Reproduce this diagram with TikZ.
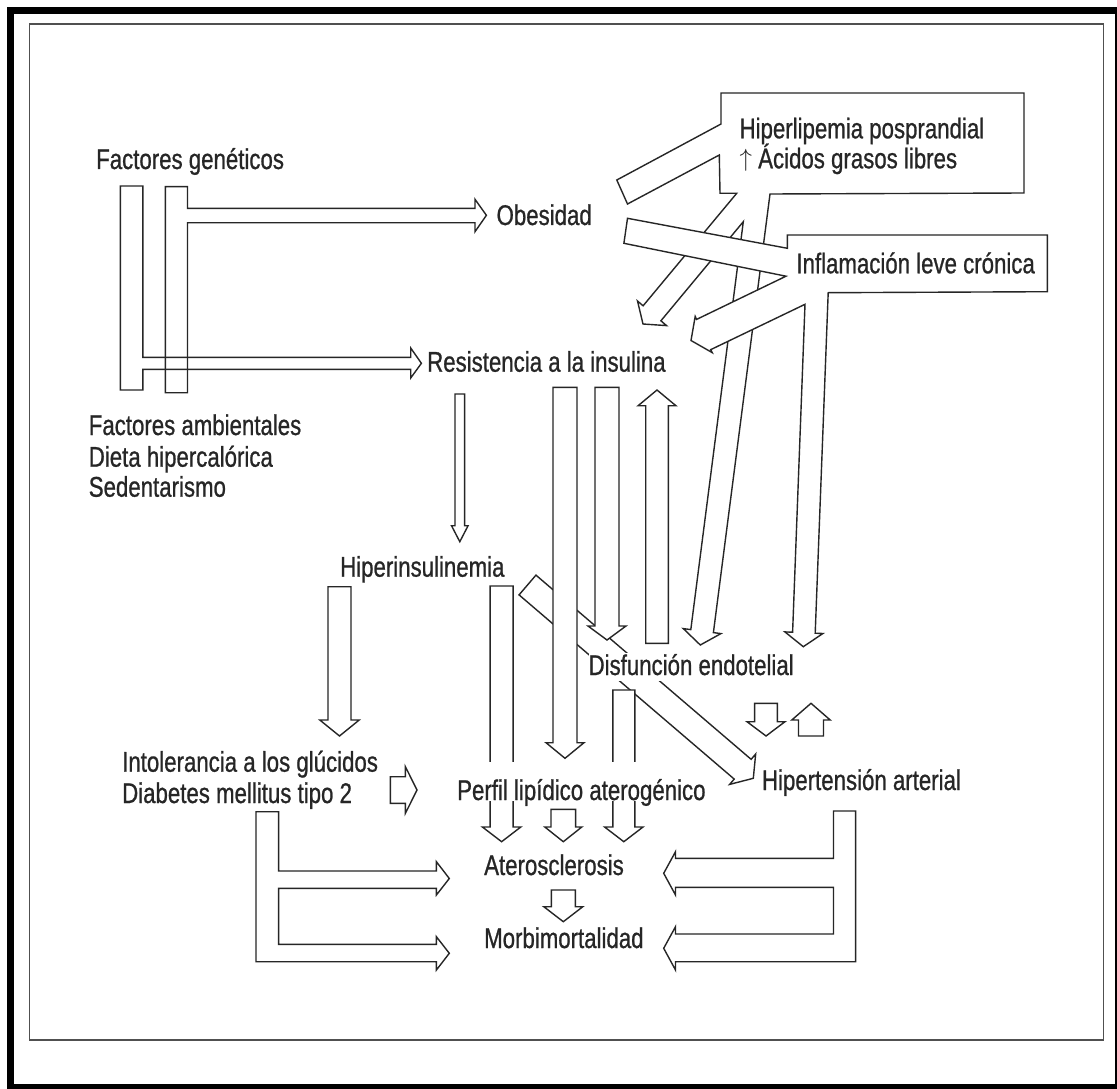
\documentclass[tikz,border=0pt]{standalone}
\usepackage{fontspec}
\setmainfont{Liberation Sans}[FakeStretch=0.78, FakeBold=0.8]
\usetikzlibrary{calc}
\definecolor{ink}{HTML}{262626}
\definecolor{rule}{HTML}{505050}

% hollow block arrow: [style]{tail}{tip}{half shaft}{half head}{head length}
\newcommand{\blkarrow}[6][]{%
  \path ($(#3)!#6!(#2)$) coordinate (hb);
  \draw[blk,#1] ($(#2)!#4!90:(#3)$) -- ($(hb)!#4!90:(#3)$) -- ($(hb)!#5!90:(#3)$)
    -- (#3) -- ($(hb)!#5!-90:(#3)$) -- ($(hb)!#4!-90:(#3)$)
    -- ($(#2)!#4!-90:(#3)$) -- cycle;
}

\begin{document}
\begin{tikzpicture}[x=1pt, y=-1pt,
    blk/.style={draw=ink, line width=1.4pt, fill=white, line join=miter},
    bar/.style={draw=ink, line width=1.4pt, line join=miter},
    lbl/.style={font=\fontsize{28.5}{31}\selectfont, text=ink, inner sep=0pt, anchor=base west},
    mask/.style={lbl, fill=white},
]
\useasboundingbox (0,0) rectangle (1117,1089);
\clip (0,0) rectangle (1117,1089);
\fill[white] (0,0) rectangle (1117,1089);

% frames
\draw[line width=7pt] (10.5,10.5) rectangle (1118,1087);
\draw[rule, line width=1.5pt] (29.5,24) rectangle (1103.5,1040);

% connector ends
\coordinate (hin-hta-a) at (527.5,585);   \coordinate (hin-hta-b) at (753.3,778.3);
\coordinate (res-per-a) at (565,387.3);   \coordinate (res-per-b) at (565,758.3);
\coordinate (res-dis-a) at (607,387.3);   \coordinate (res-dis-b) at (607,640);
\coordinate (dis-res-a) at (657,643.3);   \coordinate (dis-res-b) at (657,390);
\coordinate (res-hin-a) at (459.8,394);   \coordinate (res-hin-b) at (459.8,541.7);
\coordinate (hin-int-a) at (339.5,586.7); \coordinate (hin-int-b) at (339.5,736);
\coordinate (hin-ate-a) at (501.6,586);   \coordinate (hin-ate-b) at (501.6,841.7);
\coordinate (dis-ate-a) at (623.8,690);   \coordinate (dis-ate-b) at (623.8,841.7);
\coordinate (per-ate-a) at (563.3,809.3); \coordinate (per-ate-b) at (563.3,841.7);
\coordinate (ate-mor-a) at (563.3,890);   \coordinate (ate-mor-b) at (563.3,921.7);
\coordinate (int-per-a) at (390.4,790);   \coordinate (int-per-b) at (417,790);
\coordinate (dis-hta-a) at (766,703.3);   \coordinate (dis-hta-b) at (766,736);
\coordinate (hta-dis-a) at (811,736);     \coordinate (hta-dis-b) at (811,703.3);

% long diagonal, passes under the bars
\blkarrow{hin-hta-a}{hin-hta-b}{13pt}{20pt}{14pt}

% bars from Resistencia a la insulina
\blkarrow{res-per-a}{res-per-b}{12pt}{19pt}{15.6pt}
\blkarrow{res-dis-a}{res-dis-b}{12pt}{19pt}{14pt}
\blkarrow{dis-res-a}{dis-res-b}{11.3pt}{18.9pt}{15.7pt}
\blkarrow{res-hin-a}{res-hin-b}{4.8pt}{8.3pt}{16pt}
\blkarrow{hin-int-a}{hin-int-b}{11.5pt}{19.7pt}{16pt}
\blkarrow{hin-ate-a}{hin-ate-b}{11.5pt}{19.2pt}{14.7pt}
\blkarrow{dis-ate-a}{dis-ate-b}{11pt}{19.2pt}{14.7pt}

% Hiperlipemia box with its arrows
\draw[blk] (721,93) -- (1024,93) -- (1024,193) -- (770,194)
  -- (713.4,632.6) -- (720.9,633.6) -- (700.3,645) -- (683.3,628.6) -- (690.8,629.6)
  -- (743.3,221.7)
  -- (660.9,320.8) -- (666.5,325.6) -- (643,324) -- (637.5,301) -- (643.1,305.8)
  -- (736.7,193.3) -- (720,193.3) -- (719.3,155)
  -- (627.5,204) -- (616.8,180) -- (721,124) -- cycle;

% Inflamacion box with its arrows
\draw[blk] (787.4,235) -- (1047.4,235) -- (1047.4,291.7) -- (828.2,292.7)
  -- (815.2,633.2) -- (822.9,633.5) -- (803.3,646.7) -- (784.9,631.9) -- (792.6,632.2)
  -- (805,304.3)
  -- (710.8,349.6) -- (712.2,352.6) -- (691,340.5) -- (695.2,316.4) -- (696.6,319.4)
  -- (786,276.2) -- (623.9,243.3) -- (627.5,218.3) -- (787.4,248.3) -- cycle;

% factores -> resistencia / obesidad
\draw[bar] (120.4,390) -- (120.4,186) -- (142.9,186) -- (142.9,357.3) -- (410.7,357.3)
  -- (410.7,348) -- (421.4,363.3) -- (410.7,378) -- (410.7,369.3) -- (142.9,369.3)
  -- (142.9,390) -- cycle;
\draw[bar] (165.4,392.7) -- (165.4,186.7) -- (187.5,186.7) -- (187.5,208.3) -- (475,208.3)
  -- (475,199.3) -- (486.4,215.3) -- (475,231.7) -- (475,222.7) -- (187.5,222.7)
  -- (187.5,392.7) -- cycle;

% diabetes -> aterosclerosis / morbimortalidad
\draw[blk] (256,811.7) -- (278.6,811.7) -- (278.6,871) -- (436.4,871) -- (436.4,861.7)
  -- (449.3,878.5) -- (436.4,895) -- (436.4,888.3) -- (278.6,888.3) -- (278.6,944.3)
  -- (436.4,944.3) -- (436.4,936.7) -- (449.3,953.3) -- (436.4,970) -- (436.4,961.7)
  -- (256,961.7) -- cycle;

% hipertension -> aterosclerosis / morbimortalidad
\draw[blk] (855.6,811) -- (855.6,961.7) -- (675.5,961.7) -- (675.5,970) -- (663.7,948.3)
  -- (675.5,926.7) -- (675.5,934) -- (833.5,934) -- (833.5,887.3) -- (675.5,887.3)
  -- (675.5,895) -- (663.7,873.3) -- (675.5,851.7) -- (675.5,858.3) -- (833.5,858.3)
  -- (833.5,811) -- cycle;

% short arrows
\blkarrow{per-ate-a}{per-ate-b}{12.3pt}{18.5pt}{14.7pt}
\blkarrow{ate-mor-a}{ate-mor-b}{12pt}{19.5pt}{15pt}
\blkarrow{int-per-a}{int-per-b}{13.3pt}{23.3pt}{11.6pt}
\blkarrow{dis-hta-a}{dis-hta-b}{11.4pt}{19pt}{14.3pt}
\blkarrow{hta-dis-a}{hta-dis-b}{12.5pt}{19.2pt}{16.7pt}

% labels
\node[lbl] (fgen) at (96,169) {Factores genéticos};
\node[lbl] (obe) at (496.4,225) {Obesidad};
\node[lbl] (hli1) at (739.4,138.3) {Hiperlipemia posprandial};
\node[lbl] (hli2) at (739.4,168.3) {\raisebox{1.5pt}{$\uparrow$} Ácidos grasos libres};
\node[lbl] (infl) at (796.2,273.3) {Inflamación leve crónica};
\node[lbl] (res) at (427,371.7) {Resistencia a la insulina};
\node[lbl] (famb1) at (88.6,435) {Factores ambientales};
\node[lbl] (famb2) at (88.6,466.7) {Dieta hipercalórica};
\node[lbl] (famb3) at (88.6,496.7) {Sedentarismo};
\node[lbl] (hin) at (340,576.7) {Hiperinsulinemia};
\node[mask, text height=22pt, text depth=6pt] (dis) at (588.4,675) {Disfunción endotelial};
\node[lbl] (int1) at (122,771.7) {Intolerancia a los glúcidos};
\node[lbl] (int2) at (122,803) {Diabetes mellitus tipo 2};
\node[mask, text height=38pt, text depth=1pt] (per) at (457,800) {Perfil lipídico aterogénico};
\node[lbl] (hta) at (761.8,790) {Hipertensión arterial};
\node[lbl] (ate) at (484,875) {Aterosclerosis};
\node[lbl] (mor) at (484,948) {Morbimortalidad};
\end{tikzpicture}
\end{document}
